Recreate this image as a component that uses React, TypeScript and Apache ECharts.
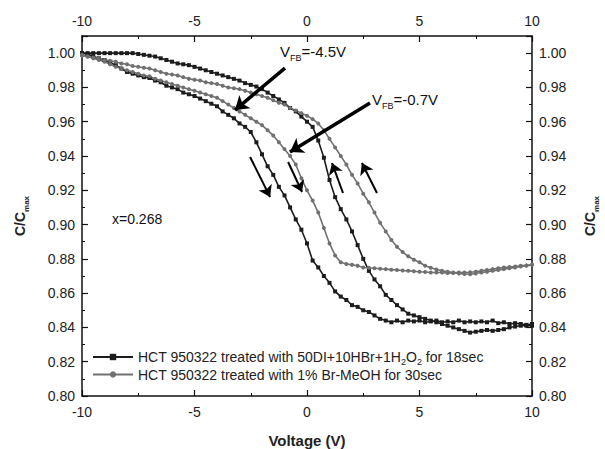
import React, { useEffect, useRef } from "react";
import * as echarts from "echarts";

const voltage = [
  -10, -9.75, -9.5, -9.25, -9, -8.75, -8.5, -8.25, -8, -7.75, -7.5, -7.25, -7, -6.75, -6.5, -6.25,
  -6, -5.75, -5.5, -5.25, -5, -4.75, -4.5, -4.25, -4, -3.75, -3.5, -3.25, -3, -2.75, -2.5, -2.25,
  -2, -1.75, -1.5, -1.25, -1, -0.75, -0.5, -0.25, 0, 0.25, 0.5, 0.75, 1, 1.25, 1.5, 1.75,
  2, 2.25, 2.5, 2.75, 3, 3.25, 3.5, 3.75, 4, 4.25, 4.5, 4.75, 5, 5.25, 5.5, 5.75,
  6, 6.25, 6.5, 6.75, 7, 7.25, 7.5, 7.75, 8, 8.25, 8.5, 8.75, 9, 9.25, 9.5, 9.75, 10,
];

// HCT 950322, 50DI+10HBr+1H2O2 — sweep towards positive bias
const blackDown = [
  1.0, 0.9995, 0.998, 0.997, 0.996, 0.9945, 0.993, 0.991, 0.989, 0.988, 0.987, 0.986, 0.9855, 0.984, 0.983, 0.981,
  0.98, 0.979, 0.977, 0.976, 0.975, 0.9735, 0.972, 0.9705, 0.969, 0.966, 0.964, 0.962, 0.959, 0.957, 0.954, 0.948,
  0.941, 0.934, 0.929, 0.922, 0.917, 0.91, 0.903, 0.897, 0.889, 0.879, 0.875, 0.87, 0.866, 0.861, 0.858, 0.856,
  0.853, 0.852, 0.85, 0.849, 0.847, 0.845, 0.844, 0.843, 0.844, 0.843, 0.844, 0.8435, 0.844, 0.843, 0.8435, 0.844,
  0.843, 0.8435, 0.843, 0.844, 0.843, 0.8435, 0.843, 0.8435, 0.843, 0.844, 0.8425, 0.843, 0.842, 0.8425, 0.842, 0.8415, 0.842,
];

// HCT 950322, 50DI+10HBr+1H2O2 — return sweep
const blackUp = [
  1.0, 1.0, 1.0, 1.0, 1.0, 1.0, 1.0, 1.0, 1.0, 1.0, 0.9995, 0.999, 0.9985, 0.998, 0.997, 0.996,
  0.995, 0.994, 0.9935, 0.993, 0.992, 0.991, 0.99, 0.989, 0.988, 0.987, 0.986, 0.985, 0.984, 0.9825, 0.9815, 0.9805,
  0.979, 0.977, 0.975, 0.973, 0.971, 0.968, 0.966, 0.963, 0.96, 0.957, 0.949, 0.939, 0.926, 0.916, 0.909, 0.903,
  0.896, 0.888, 0.88, 0.873, 0.868, 0.864, 0.859, 0.856, 0.853, 0.8505, 0.848, 0.847, 0.846, 0.845, 0.844, 0.843,
  0.842, 0.841, 0.84, 0.839, 0.838, 0.837, 0.8375, 0.838, 0.8385, 0.838, 0.8385, 0.839, 0.84, 0.8405, 0.841, 0.841, 0.841,
];

// HCT 950322, 1% Br-MeOH — sweep towards positive bias
const grayDown = [
  0.999, 0.998, 0.997, 0.996, 0.995, 0.9935, 0.992, 0.991, 0.99, 0.989, 0.988, 0.987, 0.9865, 0.985, 0.984, 0.983,
  0.982, 0.981, 0.98, 0.979, 0.978, 0.977, 0.976, 0.975, 0.974, 0.972, 0.97, 0.968, 0.966, 0.964, 0.962, 0.96,
  0.958, 0.955, 0.952, 0.948, 0.944, 0.94, 0.935, 0.927, 0.92, 0.914, 0.907, 0.898, 0.889, 0.882, 0.878, 0.877,
  0.8765, 0.876, 0.875, 0.8748, 0.8745, 0.8742, 0.874, 0.8737, 0.8735, 0.8732, 0.873, 0.8728, 0.8725, 0.8723, 0.872, 0.872,
  0.872, 0.8718, 0.8718, 0.872, 0.872, 0.8722, 0.8725, 0.873, 0.8735, 0.874, 0.8745, 0.875, 0.8752, 0.8755, 0.876, 0.8762, 0.8765,
];

// HCT 950322, 1% Br-MeOH — return sweep
const grayUp = [
  0.9985, 0.998, 0.9975, 0.997, 0.996, 0.9955, 0.995, 0.994, 0.9935, 0.9925, 0.992, 0.9915, 0.991, 0.99, 0.989, 0.988,
  0.9875, 0.987, 0.986, 0.985, 0.9845, 0.984, 0.983, 0.9825, 0.982, 0.981, 0.98, 0.9795, 0.979, 0.978, 0.977, 0.976,
  0.975, 0.974, 0.9725, 0.971, 0.97, 0.968, 0.9665, 0.965, 0.9635, 0.9615, 0.959, 0.955, 0.95, 0.945, 0.94, 0.935,
  0.929, 0.924, 0.918, 0.913, 0.907, 0.901, 0.896, 0.891, 0.887, 0.884, 0.8815, 0.8795, 0.878, 0.876, 0.8748, 0.8738,
  0.873, 0.8725, 0.872, 0.8715, 0.8712, 0.871, 0.8715, 0.872, 0.8725, 0.873, 0.8735, 0.874, 0.8745, 0.875, 0.8755, 0.876, 0.8765,
];

const nameBlack = "HCT 950322 treated with 50DI+10HBr+1H2O2 for 18sec";
const nameGray = "HCT 950322 treated with 1% Br-MeOH for 30sec";

// arrows [x1, y1, x2, y2] in data units (tail -> head)
const bigArrows = [
  [-0.98, 0.9913, -3.2, 0.9668],
  [2.8, 0.9709, -0.76, 0.9423],
];
const smallArrows = [
  [-2.53, 0.9394, -1.64, 0.9161],
  [-0.84, 0.9365, -0.22, 0.919],
  [1.6, 0.9184, 1.11, 0.9359],
  [3.11, 0.9184, 2.44, 0.9359],
];

const FONT = "'Liberation Sans', Arial, sans-serif";
const BLACK = "#1c1c1c";
const GRAY = "#707070";

function pairs(ys: number[]) {
  return voltage.map((v, i) => [v, ys[i]]);
}

export default function App() {
  const ref = useRef<HTMLDivElement>(null);
  useEffect(() => {
    if (!ref.current) return;
    document.body.style.margin = "0";
    document.body.style.overflow = "hidden";
    const chart = echarts.init(ref.current, undefined, { renderer: "svg" });

    const axisLine = { show: true, onZero: false, lineStyle: { color: "#111", width: 1.5 } };
    const axisTick = { show: true, inside: true, length: 6, lineStyle: { color: "#111", width: 1.2 } };
    const minorTick = { show: true, splitNumber: 2, length: 3, lineStyle: { color: "#111", width: 1 } };
    const lbl = { color: "#222", fontSize: 14, fontFamily: FONT };

    const xCommon = {
      type: "value" as const,
      min: -10,
      max: 10,
      interval: 5,
      axisLine,
      axisTick,
      minorTick,
      splitLine: { show: false },
    };
    const yCommon = {
      type: "value" as const,
      min: 0.8,
      max: 1.01,
      interval: 0.02,
      axisLine,
      axisTick,
      minorTick,
      splitLine: { show: false },
      nameLocation: "middle" as const,
      nameRotate: 90,
      nameTextStyle: {
        fontFamily: FONT,
        fontWeight: "bold",
        color: "#222",
        rich: {
          a: { fontSize: 14, fontWeight: "bold", fontFamily: FONT, color: "#222", lineHeight: 20 },
          s: { fontSize: 8, fontWeight: "bold", fontFamily: FONT, color: "#222", lineHeight: 8, verticalAlign: "bottom" },
        },
      },
    };

    const arrowData = (list: number[][], width: number, size: number) =>
      list.map((a) => [
        { coord: [a[0], a[1]], symbol: "none" },
        { coord: [a[2], a[3]], symbol: "arrow", symbolSize: size, lineStyle: { width, color: "#000", type: "solid" } },
      ]);

    const mkSeries = (name: string, ys: number[], color: string, symbol: string) => ({
      type: "line",
      name,
      data: pairs(ys),
      symbol,
      symbolSize: 4,
      showSymbol: true,
      lineStyle: { color, width: 1.6 },
      itemStyle: { color },
      xAxisIndex: 0,
      yAxisIndex: 0,
    });

    const s0: any = mkSeries(nameBlack, blackDown, BLACK, "rect");
    s0.markLine = {
      silent: true,
      animation: false,
      label: { show: false },
      symbol: ["none", "arrow"],
      lineStyle: { color: "#000", type: "solid", width: 3 },
      data: [...arrowData(bigArrows, 3.5, 13), ...arrowData(smallArrows, 2, 11)],
    };

    chart.setOption({
      animation: false,
      grid: { left: 82, right: 73, top: 36, bottom: 53, containLabel: false, outerBoundsMode: "none" },
      xAxis: [
        {
          ...xCommon,
          position: "bottom",
          axisLabel: { ...lbl, margin: 9 },
          name: "Voltage (V)",
          nameLocation: "middle",
          nameGap: 37,
          nameTextStyle: { fontFamily: FONT, fontSize: 15, fontWeight: "bold", color: "#222" },
        },
        {
          ...xCommon,
          position: "top",
          axisLabel: { ...lbl, margin: 8 },
        },
      ],
      yAxis: [
        {
          ...yCommon,
          position: "left",
          axisLabel: { ...lbl, margin: 7, showMaxLabel: false, formatter: (v: number) => v.toFixed(2) },
          name: "{a|C/C}{s|max}",
          nameGap: 52,
        },
        {
          ...yCommon,
          position: "right",
          axisLabel: { ...lbl, margin: 7, showMaxLabel: false, formatter: (v: number) => v.toFixed(2) },
          name: "{a|C/C}{s|max}",
          nameGap: 48,
        },
      ],
      legend: {
        orient: "vertical",
        left: 92,
        top: 350,
        padding: 0,
        itemWidth: 40,
        itemHeight: 8,
        itemGap: 1,
        data: [nameBlack, nameGray],
        formatter: (n: string) =>
          n === nameBlack
            ? "{a|HCT 950322 treated with 50DI+10HBr+1H}{s|2}{a|O}{s|2}{a| for 18sec}"
            : "{a|" + n + "}",
        textStyle: {
          fontFamily: FONT,
          color: "#222",
          rich: {
            a: { fontSize: 14, fontFamily: FONT, color: "#222", lineHeight: 19 },
            s: { fontSize: 9, fontFamily: FONT, color: "#222", lineHeight: 9, verticalAlign: "bottom" },
          },
        },
      },
      graphic: [
        {
          type: "text",
          left: 280,
          top: 44,
          style: {
            text: "{a|V}{s|FB}{a|=-4.5V}",
            rich: {
              a: { fontSize: 15, fontFamily: FONT, fill: "#111", lineHeight: 22 },
              s: { fontSize: 9, fontFamily: FONT, fill: "#111", lineHeight: 9, verticalAlign: "bottom" },
            },
          },
        },
        {
          type: "text",
          left: 372,
          top: 92,
          style: {
            text: "{a|V}{s|FB}{a|=-0.7V}",
            rich: {
              a: { fontSize: 15, fontFamily: FONT, fill: "#111", lineHeight: 22 },
              s: { fontSize: 9, fontFamily: FONT, fill: "#111", lineHeight: 9, verticalAlign: "bottom" },
            },
          },
        },
        {
          type: "text",
          left: 112,
          top: 212,
          style: { text: "x=0.268", fontSize: 14, fontFamily: FONT, fill: "#111" },
        },
      ],
      series: [
        s0,
        mkSeries(nameBlack, blackUp, BLACK, "rect"),
        mkSeries(nameGray, grayDown, GRAY, "circle"),
        mkSeries(nameGray, grayUp, GRAY, "circle"),
      ],
    });

    return () => chart.dispose();
  }, []);

  return <div ref={ref} style={{ width: 605, height: 449 }} />;
}
